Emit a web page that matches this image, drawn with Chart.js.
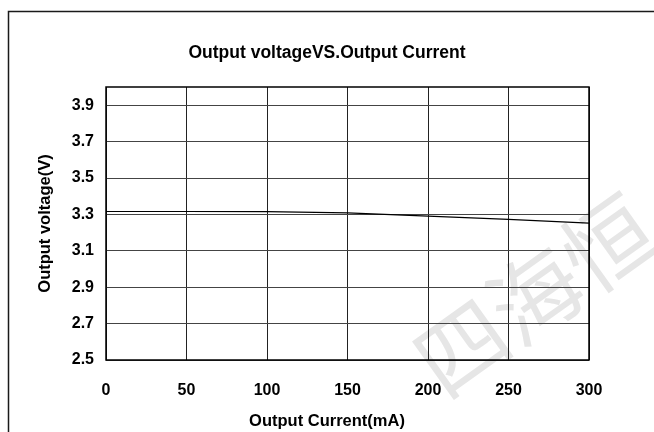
<!DOCTYPE html>
<html>
<head>
<meta charset="utf-8">
<script src="https://cdn.jsdelivr.net/npm/chart.js@4.4.1/dist/chart.umd.min.js"></script>
<style>
  html, body { margin: 0; padding: 0; background: #fff; }
  #wrap { width: 654px; height: 432px; position: relative; }
</style>
</head>
<body>
<div id="wrap"><canvas id="chart"></canvas></div>
<script>
// data
const currents = [0, 50, 100, 150, 200, 250, 300]
const voltages = [3.316, 3.316, 3.315, 3.308, 3.291, 3.273, 3.252]
const xTicks = [0, 50, 100, 150, 200, 250, 300]
const yTicks = [2.5, 2.7, 2.9, 3.1, 3.3, 3.5, 3.7, 3.9]

const FONT = "'Liberation Sans', Arial, sans-serif"

// frame round the whole picture, watermark and plot border
const decor = {
  id: "decor",
  beforeDraw(chart) {
    const ctx = chart.ctx
    ctx.save()
    ctx.fillStyle = "#fff"
    ctx.fillRect(0, 0, chart.width, chart.height)
    // watermark
    ctx.fillStyle = "#e6e6e6"
    ctx.font = "90px 'Noto Sans CJK SC'"
    ctx.translate(535, 295)
    ctx.rotate(-0.62)
    ctx.textAlign = "center"
    ctx.textBaseline = "middle"
    ctx.fillText("四海恒", 0, 0)
    ctx.restore()
  },
  afterDraw(chart) {
    const ctx = chart.ctx
    const a = chart.chartArea
    ctx.save()
    ctx.strokeStyle = "#1a1a1a"
    ctx.lineWidth = 1.5
    ctx.strokeRect(8.5, 11.5, 700, 500)
    ctx.strokeStyle = "#000"
    ctx.lineWidth = 1.5
    ctx.strokeRect(a.left, a.top, a.right - a.left, a.bottom - a.top)
    ctx.restore()
  },
}

new Chart(document.getElementById("chart"), {
  type: "line",
  data: {
    datasets: [
      {
        data: currents.map((c, i) => ({ x: c, y: voltages[i] })),
        borderColor: "#000",
        borderWidth: 1.2,
        pointRadius: 0,
        tension: 0,
      },
    ],
  },
  options: {
    responsive: true,
    maintainAspectRatio: false,
    animation: false,
    layout: { padding: 0 },
    plugins: {
      legend: { display: false },
      tooltip: { enabled: false },
      title: {
        display: true,
        text: "Output voltageVS.Output Current",
        color: "#000",
        font: { family: FONT, size: 17.5, weight: "bold" },
        padding: { top: 42.5, bottom: 23.5 },
      },
      // x axis caption, centred on the whole picture like the original
      subtitle: {
        display: true,
        position: "bottom",
        text: "Output Current(mA)",
        color: "#000",
        font: { family: FONT, size: 16.5, weight: "bold" },
        padding: { top: 0, bottom: 1 },
      },
    },
    scales: {
      x: {
        type: "linear",
        min: 0,
        max: 300,
        afterBuildTicks: (s) => { s.ticks = xTicks.map((v) => ({ value: v })) },
        afterFit: (s) => { s.height = 51.2 },
        grid: { color: "#222", lineWidth: 1, drawTicks: false },
        border: { display: false },
        ticks: {
          color: "#000",
          padding: 21,
          maxRotation: 0,
          font: { family: FONT, size: 16, weight: "bold" },
        },
      },
      y: {
        min: 2.5,
        max: 4.0,
        afterBuildTicks: (s) => { s.ticks = yTicks.map((v) => ({ value: v })) },
        afterFit: (s) => { s.width = 106 },
        grid: { color: "#444", lineWidth: 1, drawTicks: false },
        border: { display: false },
        ticks: {
          color: "#000",
          padding: 12,
          callback: (v) => v.toFixed(1),
          font: { family: FONT, size: 16, weight: "bold" },
        },
        title: {
          display: true,
          text: "Output voltage(V)",
          color: "#000",
          font: { family: FONT, size: 16.5, weight: "bold" },
          padding: { top: 36, bottom: 0 },
        },
      },
      // empty right-hand strip, keeps the plot where it sits in the original
      yRight: {
        position: "right",
        afterFit: (s) => { s.width = 65 },
        grid: { display: false },
        border: { display: false },
        ticks: { display: false },
      },
    },
  },
  plugins: [decor],
})
</script>
</body>
</html>
